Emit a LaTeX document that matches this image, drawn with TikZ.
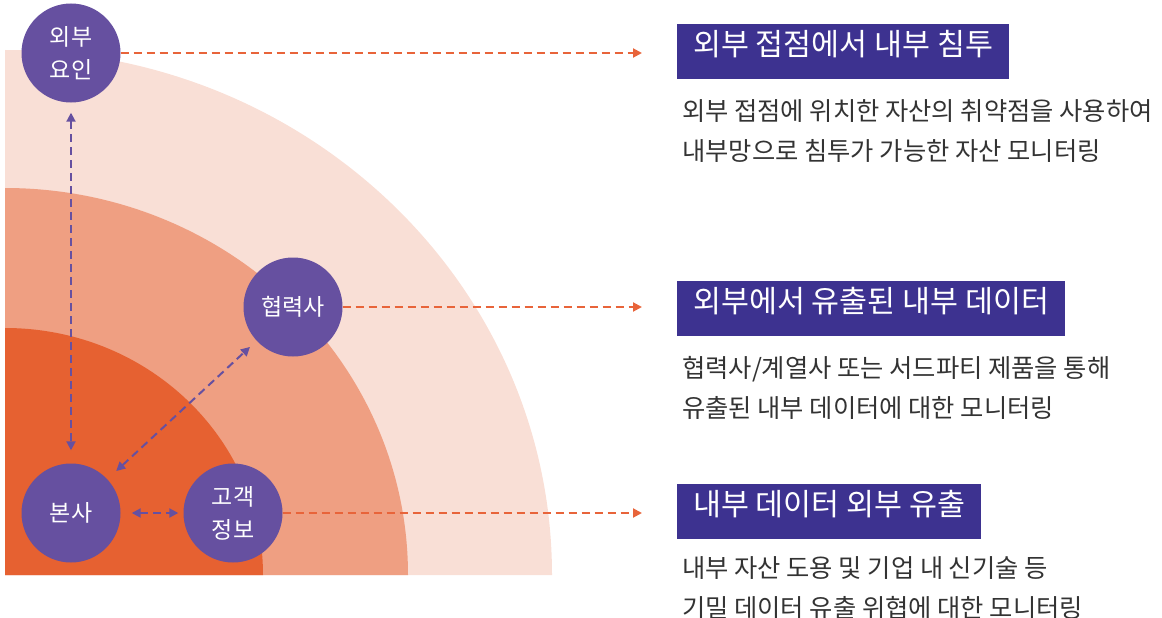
\documentclass[tikz,border=0pt]{standalone}
\usepackage{fontspec}
\setmainfont{Noto Sans CJK KR}
\usetikzlibrary{arrows.meta}
\definecolor{bandA}{HTML}{F9DFD6}
\definecolor{bandB}{HTML}{EF9F82}
\definecolor{bandC}{HTML}{E66131}
\definecolor{circ}{HTML}{6650A0}
\definecolor{titlebg}{HTML}{3D3290}
\definecolor{orangeline}{HTML}{E8643A}
\definecolor{bodytext}{HTML}{333333}
\tikzset{
  place/.style={circle, fill=circ, minimum size=99pt, inner sep=0pt, text=white, align=center,
    font=\fontsize{23}{33}\selectfont},
  titlebox/.style={fill=titlebg, text=white, anchor=north west, minimum height=55pt, inner xsep=16pt,
    inner ysep=0pt, text height=0.88em, text depth=0.12em, font=\fontsize{30.4}{36}\selectfont},
  desc/.style={anchor=north west, inner sep=0pt, align=left, text=bodytext,
    font=\fontsize{25.3}{40}\selectfont},
  orangelink/.style={draw=orangeline, line width=2pt, dash pattern=on 8pt off 5pt,
    -{Triangle[length=9pt,width=9pt]}},
  purplelink/.style={draw=circ, line width=2pt, dash pattern=on 8pt off 5pt,
    {Triangle[length=9pt,width=9pt]}-{Triangle[length=9pt,width=9pt]}}
}
\begin{document}
\begin{tikzpicture}[x=1pt,y=1pt]
\useasboundingbox (0,0) rectangle (1162,-618);
% bands
\fill[bandA] (5,-575) -- (552,-575) arc[start angle=0,end angle=90,x radius=547,y radius=525] -- cycle;
\fill[bandB] (5,-575) -- (408,-575) arc[start angle=0,end angle=90,x radius=403,y radius=387] -- cycle;
\fill[bandC] (5,-575) -- (263,-575) arc[start angle=0,end angle=90,x radius=258,y radius=247] -- cycle;
% circles
\node[place] (ext) at (71,-53) {외부\\요인};
\node[place] (hp) at (293,-307) {협력사};
\node[place] (hq) at (71,-513) {본사};
\node[place] (cust) at (233,-513) {고객\\정보};
% purple connectors
\draw[purplelink, shorten <=10pt, shorten >=13pt] (ext) -- (hq);
\draw[purplelink, shorten <=12pt, shorten >=9pt] (hq) -- (hp);
\draw[purplelink, shorten <=11pt, shorten >=5pt] (hq) -- (cust);
% arrow ends
\coordinate (e1) at (642,-53);
\coordinate (e2) at (642,-307);
\coordinate (e3) at (642,-513);
\draw[orangelink] (ext.east) -- (e1);
\draw[orangelink] (hp.east) -- (e2);
\draw[orangelink] (cust.east) -- (e3);
% titles
\node[titlebox] (t1) at (677,-24) {외부 접점에서 내부 침투};
\node[titlebox] (t2) at (677,-281) {외부에서 유출된 내부 데이터};
\node[titlebox] (t3) at (677,-484) {내부 데이터 외부 유출};
% descriptions
\node[desc] (d1) at (682,-99) {외부 접점에 위치한 자산의 취약점을 사용하여\\내부망으로 침투가 가능한 자산 모니터링};
\node[desc] (d2) at (682,-356) {협력사/계열사 또는 서드파티 제품을 통해\\유출된 내부 데이터에 대한 모니터링};
\node[desc] (d3) at (682,-556) {내부 자산 도용 및 기업 내 신기술 등\\기밀 데이터 유출 위협에 대한 모니터링};
\end{tikzpicture}
\end{document}
